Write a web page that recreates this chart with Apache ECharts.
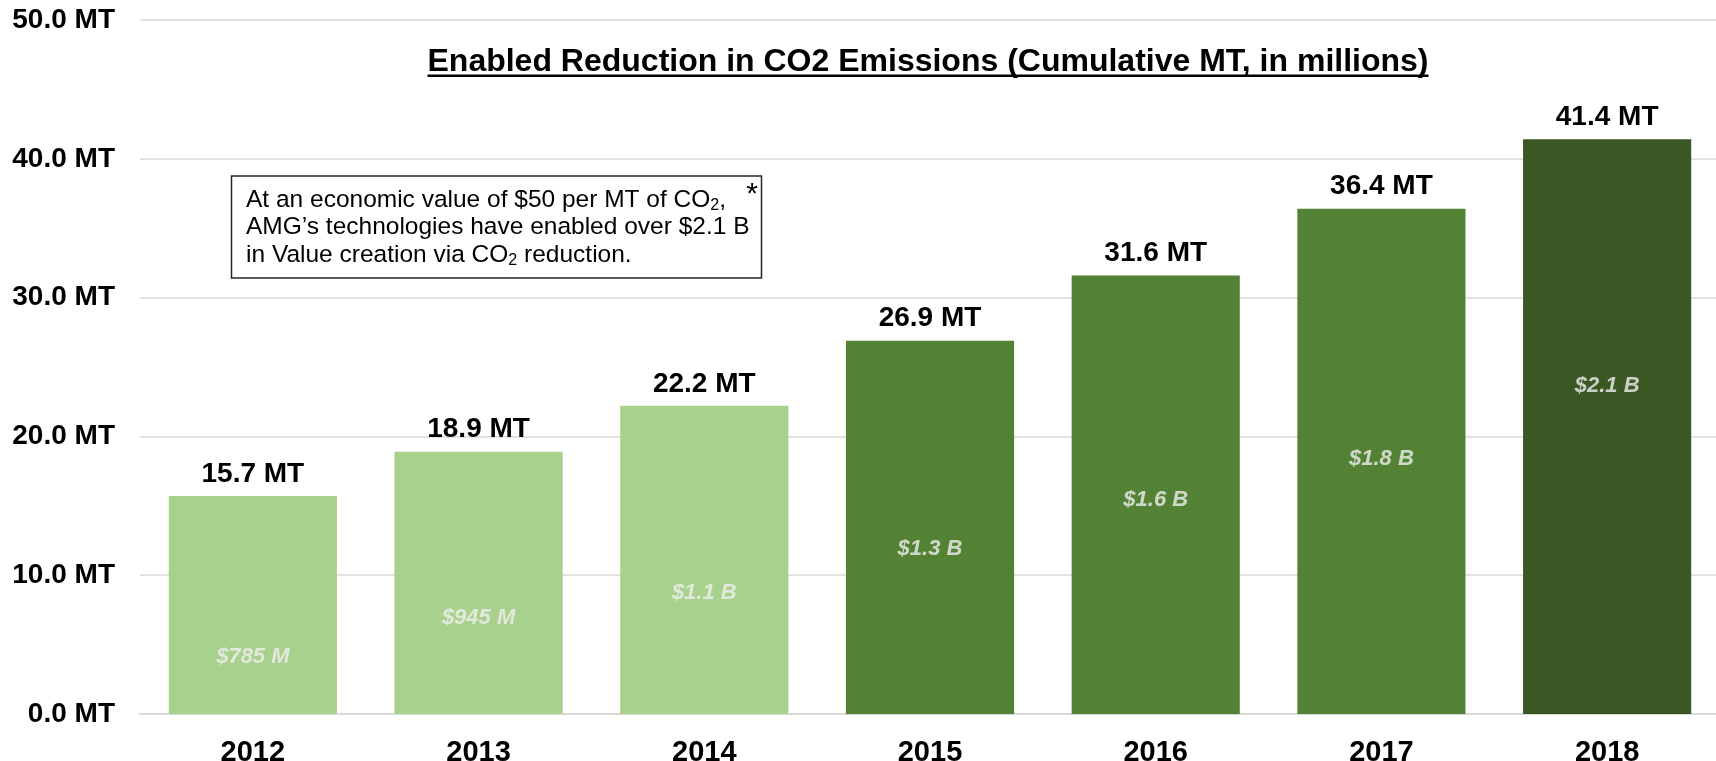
<!DOCTYPE html>
<html>
<head>
<meta charset="utf-8">
<script src="https://cdn.jsdelivr.net/npm/echarts@6/dist/echarts.min.js"></script>
<style>
  html, body { margin: 0; padding: 0; background: #fff; }
  #chart { width: 1716px; height: 761px; }
</style>
</head>
<body>
<div id="chart"></div>
<script>
// data
const years = ['2012', '2013', '2014', '2015', '2016', '2017', '2018'];
const co2Mt = [15.7, 18.9, 22.2, 26.9, 31.6, 36.4, 41.4];
const dollarLabels = ['$785 M', '$945 M', '$1.1 B', '$1.3 B', '$1.6 B', '$1.8 B', '$2.1 B'];
// height (in MT) where each dollar label sits inside its bar
const dollarLabelAt = [4.1, 6.9, 8.7, 11.9, 15.4, 18.4, 23.6];
const yTicks = [0, 10, 20, 30, 40, 50];

const FONT = "'Liberation Sans', Arial, sans-serif";
const titleText = 'Enabled Reduction in CO2 Emissions (Cumulative MT, in millions)';

// bar shade: light for 2012-2014, mid for 2015-2017, dark for 2018
function barColor(i) {
    if (i < 3) return '#A9D18E';
    if (i < 6) return '#548235';
    return '#3A5724';
}

// width of title, for the underline
let ctx = document.createElement('canvas').getContext('2d');
ctx.font = 'bold 32px ' + FONT;
let titleW = ctx.measureText(titleText).width;
const titleCx = 928;

let chart = echarts.init(document.getElementById('chart'));
let option = {
    animation: false,
    backgroundColor: '#fff',
    grid: {
        left: 140,
        right: -4,
        top: 20,
        bottom: 47,
        outerBoundsMode: 'none' // x labels are cut at the bottom edge in the original
    },
    xAxis: {
        type: 'category',
        data: years,
        axisTick: { show: false },
        axisLine: { show: true, lineStyle: { color: '#D9D9D9', width: 2 } },
        axisLabel: {
            margin: 24,
            fontFamily: FONT,
            fontSize: 29,
            fontWeight: 'bold',
            color: '#000'
        }
    },
    yAxis: {
        type: 'value',
        min: yTicks[0],
        max: yTicks[yTicks.length - 1],
        interval: 10,
        axisLine: { show: false },
        axisTick: { show: false },
        splitLine: { lineStyle: { color: '#D9D9D9', width: 1.5 } },
        axisLabel: {
            margin: 25,
            fontFamily: FONT,
            fontSize: 28,
            fontWeight: 'bold',
            color: '#000',
            formatter: v => v.toFixed(1) + ' MT'
        }
    },
    series: [
        {
            type: 'bar',
            barWidth: '74.5%',
            data: co2Mt.map((v, i) => ({ value: v, itemStyle: { color: barColor(i) } })),
            label: {
                show: true,
                position: 'top',
                distance: 8,
                fontFamily: FONT,
                fontSize: 28,
                fontWeight: 'bold',
                color: '#000',
                formatter: p => p.value.toFixed(1) + ' MT'
            }
        },
        {
            type: 'scatter',
            symbolSize: 0,
            silent: true,
            data: dollarLabelAt,
            label: {
                show: true,
                position: 'inside',
                fontFamily: FONT,
                fontSize: 22,
                fontWeight: 'bold',
                fontStyle: 'italic',
                color: '#EFEFEF',
                formatter: p => dollarLabels[p.dataIndex]
            }
        }
    ],
    graphic: [
        {
            type: 'text',
            x: titleCx,
            y: 62,
            style: {
                text: titleText,
                font: 'bold 32px ' + FONT,
                fill: '#000',
                align: 'center',
                verticalAlign: 'middle'
            }
        },
        {
            type: 'rect',
            shape: { x: titleCx - titleW / 2, y: 74.5, width: titleW, height: 2.5 },
            style: { fill: '#000' }
        },
        {
            type: 'rect',
            shape: { x: 231.5, y: 176, width: 530, height: 102 },
            style: { fill: '#fff', stroke: '#262626', lineWidth: 1.5 }
        },
        {
            type: 'text',
            x: 246,
            y: 186,
            style: {
                text: 'At an economic value of $50 per MT of CO{sub|2},\nAMG\u2019s technologies have enabled over $2.1 B\nin Value creation via CO{sub|2} reduction.',
                fontFamily: FONT,
                fontSize: 24.5,
                lineHeight: 27.5,
                fill: '#000',
                rich: {
                    sub: { fontFamily: FONT, fontSize: 16, lineHeight: 15, verticalAlign: 'bottom', fill: '#000' }
                }
            }
        },
        {
            type: 'text',
            x: 752,
            y: 195,
            style: {
                text: '*',
                fontFamily: FONT,
                fontSize: 30,
                fill: '#000',
                align: 'center',
                verticalAlign: 'middle'
            }
        }
    ]
};
chart.setOption(option);
</script>
</body>
</html>
